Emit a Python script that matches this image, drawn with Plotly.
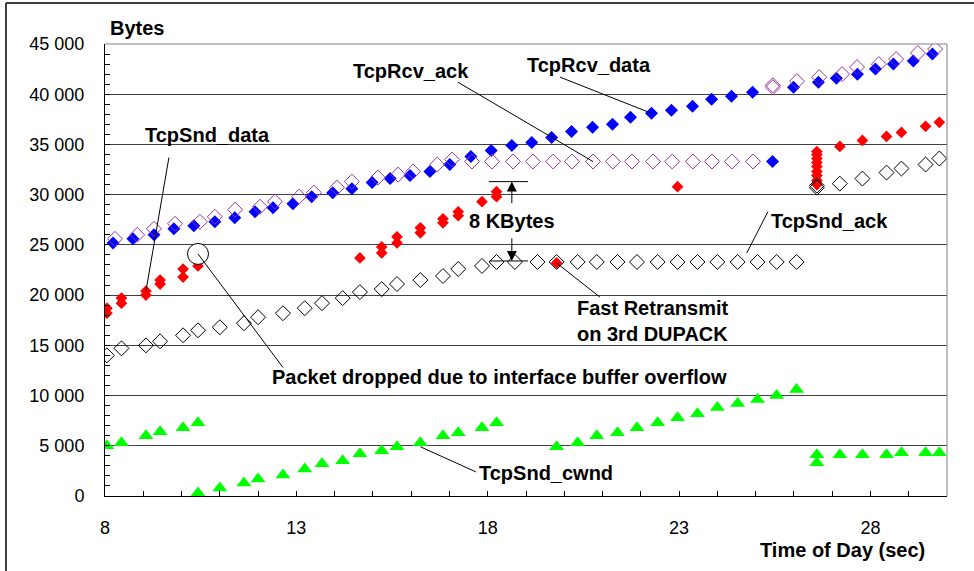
import plotly.graph_objects as go

# ---------------- data (time in sec, bytes) ----------------
# TcpRcv_data : blue filled diamonds
rcv_data_t = [8.21, 8.73, 9.28, 9.80, 10.32, 10.87, 11.39, 11.92, 12.39, 12.91,
              13.40, 13.95, 14.45, 14.98, 15.45, 15.97, 16.49, 17.01, 17.56, 18.09,
              18.63, 19.15, 19.67, 20.19, 20.74, 21.26, 21.73, 22.28, 22.80, 23.35,
              23.85, 24.37, 24.92, 25.44, 25.99, 26.64, 27.11, 27.66, 28.13, 28.60,
              29.12, 29.62]
rcv_data_b = [25200, 25600, 26000, 26600, 26900, 27300, 27700, 28300, 28700, 29100,
              29800, 30200, 30600, 31200, 31600, 31900, 32300, 33000, 33800, 34400,
              34900, 35200, 35700, 36300, 36700, 37000, 37700, 38100, 38400, 38800,
              39500, 39800, 40200, 33300, 40700, 41200, 41600, 42000, 42500, 43000,
              43300, 44000]

# TcpRcv_ack : purple open diamonds
rcv_ack_t = [8.26, 8.84, 9.28, 9.83, 10.48, 10.87, 11.40, 12.05, 12.44, 13.07,
             13.46, 14.06, 14.45, 15.13, 15.66, 16.05, 16.68, 17.07,
             17.59, 18.11, 18.66, 19.18, 19.71, 20.20, 20.75, 21.27, 21.77, 22.32,
             22.82, 23.36, 23.86, 24.38, 24.93,
             25.45, 25.45, 26.08, 26.66, 27.26, 27.65, 28.22, 28.67, 29.24, 29.69]
rcv_ack_b = [25600, 26000, 26600, 27100, 27300, 27800, 28500, 28800, 29300, 29800,
             30200, 30700, 31300, 31700, 32000, 32300, 33000, 33500,
             33300, 33300, 33300, 33300, 33300, 33300, 33300, 33300, 33300, 33300,
             33300, 33300, 33300, 33300, 33300,
             40700, 40900, 41300, 41700, 42000, 42700, 43000, 43500, 44100, 44500]

# TcpSnd_data : red filled diamonds
snd_data_t = [8.05, 8.05, 8.43, 8.43, 9.07, 9.07, 9.44, 9.44, 10.04, 10.04, 10.43,
              14.66, 15.23, 15.23, 15.63, 15.63, 16.24, 16.24, 16.83, 16.83,
              17.23, 17.23, 17.85, 18.23, 18.23, 19.80, 22.96,
              26.60, 26.60, 26.60, 26.60, 26.60, 26.60, 26.60, 26.60, 26.60,
              27.20, 27.79, 28.42, 28.81, 29.44, 29.80]
snd_data_b = [18200, 18700, 19200, 19700, 20000, 20400, 21100, 21500, 21800, 22600, 22900,
              23700, 24200, 24800, 25200, 25800, 26200, 26700, 27200, 27600,
              27900, 28300, 29300, 29800, 30300, 23200, 30800,
              31000, 31400, 31900, 32300, 32800, 33200, 33600, 34000, 34300,
              34800, 35400, 35800, 36200, 36800, 37200]

# TcpSnd_ack : black open diamonds
snd_ack_t = [8.05, 8.43, 9.07, 9.44, 10.04, 10.43, 11.00, 11.63, 12.00, 12.65,
             13.22, 13.67, 14.21, 14.66, 15.23, 15.63, 16.24, 16.83, 17.23, 17.85,
             18.23, 18.71, 19.30, 19.80, 20.35, 20.85, 21.39, 21.90, 22.44, 22.96,
             23.48, 24.00, 24.53, 25.05, 25.55, 26.07,
             26.60, 26.60, 27.20, 27.79, 28.42, 28.81, 29.44, 29.80]
snd_ack_b = [14000, 14700, 15000, 15400, 16000, 16500, 16800, 17200, 17800, 18200,
             18700, 19200, 19700, 20300, 20600, 21100, 21500, 21900, 22600, 22900,
             23300, 23300, 23300, 23300, 23300, 23300, 23300, 23300, 23300, 23300,
             23300, 23300, 23300, 23300, 23300, 23300,
             30700, 30900, 31100, 31600, 32200, 32600, 33000, 33600]

# TcpSnd_cwnd : green triangles
cwnd_t = [8.05, 8.43, 9.07, 9.44, 10.04, 10.43, 10.43, 11.00, 11.63, 12.00, 12.65,
          13.22, 13.67, 14.21, 14.66, 15.23, 15.63, 16.24, 16.83, 17.23, 17.85, 18.23,
          19.80, 20.35, 20.85, 21.39, 21.90, 22.44, 22.96, 23.48, 24.00, 24.53, 25.05,
          25.55, 26.07, 26.60, 26.60, 27.20, 27.79, 28.42, 28.81, 29.44, 29.80]
cwnd_b = [5000, 5300, 6000, 6400, 6800, 7300, 300, 800, 1300, 1700, 2100,
          2700, 3200, 3500, 4200, 4500, 4900, 5300, 6000, 6300, 6800, 7300,
          4900, 5300, 6000, 6300, 6800, 7300, 7800, 8200, 8800, 9200, 9600,
          10000, 10600, 4100, 3300, 4100, 4100, 4100, 4300, 4300, 4300]

# dropped packet marker
drop_t = [10.43]
drop_b = [24100]

x_tick_vals = [8, 13, 18, 23, 28]
x_tick_text = ["8", "13", "18", "23", "28"]
y_tick_vals = [0, 5000, 10000, 15000, 20000, 25000, 30000, 35000, 40000, 45000]
y_tick_text = ["0", "5 000", "10 000", "15 000", "20 000", "25 000",
               "30 000", "35 000", "40 000", "45 000"]

FONT = "Arial, Liberation Sans, sans-serif"

fig = go.Figure()
fig.add_trace(go.Scatter(x=cwnd_t, y=cwnd_b, mode="markers", name="TcpSnd_cwnd",
                         marker=dict(symbol="triangle-up", size=13, color="#00FF00",
                                     line=dict(width=0))))
fig.add_trace(go.Scatter(x=rcv_data_t, y=rcv_data_b, mode="markers", name="TcpRcv_data",
                         marker=dict(symbol="diamond", size=10, color="#0000FF",
                                     line=dict(width=0))))
fig.add_trace(go.Scatter(x=rcv_ack_t, y=rcv_ack_b, mode="markers", name="TcpRcv_ack",
                         marker=dict(symbol="diamond-open", size=11.5, color="#993399",
                                     line=dict(width=1, color="#993399"))))
fig.add_trace(go.Scatter(x=snd_data_t, y=snd_data_b, mode="markers", name="TcpSnd_data",
                         marker=dict(symbol="diamond", size=9, color="#FF0000",
                                     line=dict(width=0))))
fig.add_trace(go.Scatter(x=snd_ack_t, y=snd_ack_b, mode="markers", name="TcpSnd_ack",
                         marker=dict(symbol="diamond-open", size=11.5, color="black",
                                     line=dict(width=1, color="black"))))
fig.add_trace(go.Scatter(x=drop_t, y=drop_b, mode="markers", name="drop",
                         marker=dict(symbol="circle", size=21, color="white",
                                     line=dict(width=1, color="black"))))

shapes = []
def seg(x0, y0, x1, y1, color="black", width=1, xref="x", yref="y"):
    shapes.append(dict(type="line", x0=x0, y0=y0, x1=x1, y1=y1, xref=xref, yref=yref,
                       line=dict(color=color, width=width), layer="above"))

# leader lines
i = rcv_ack_t.index(20.75)
seg(17.22, 41200, rcv_ack_t[i], rcv_ack_b[i])
i = rcv_data_t.index(22.28)
seg(19.89, 41700, rcv_data_t[i], rcv_data_b[i])
seg(9.67, 33700, snd_data_t[5], snd_data_b[5])
seg(25.32, 28300, 24.77, 24200)
i = snd_data_t.index(19.80)
seg(snd_data_t[i], snd_data_b[i], 20.93, 19800)
seg(drop_t[0], drop_b[0], 12.65, 12800)
i = cwnd_t.index(16.24)
seg(cwnd_t[i], cwnd_b[i] - 400, 17.69, 2400)
# 8 KBytes bracket
seg(18.03, 31300, 19.05, 31300)
seg(18.05, 23400, 19.05, 23400)
# plot frame (top/right gray) and outer border
seg(1, 0, 1, 1, color="#808080", xref="paper", yref="paper")
seg(0, 1, 1, 1, color="#808080", xref="paper", yref="paper")
seg(-0.1176, 1.0907, 1.04, 1.0907, color="#404040", width=2, xref="paper", yref="paper")
seg(-0.1176, 1.0907, -0.1176, -0.17, color="#404040", width=2, xref="paper", yref="paper")

ann = []
def txt(x, y, s, xanchor="center", align="center", xref="x", yref="y", yanchor="middle"):
    ann.append(dict(x=x, y=y, text=s, showarrow=False, xref=xref, yref=yref,
                    xanchor=xanchor, yanchor=yanchor, align=align,
                    font=dict(family=FONT, size=20, color="black", weight="bold")))

txt(16.0, 42300, "TcpRcv_ack")
txt(20.65, 42900, "TcpRcv_data")
txt(10.69, 35900, "TcpSnd_data")
txt(26.94, 27400, "TcpSnd_ack")
txt(18.63, 27400, "8 KBytes")
txt(20.28, 17400, "Fast Retransmit<br>on 3rd DUPACK", xanchor="left", align="left")
txt(18.30, 11850, "Packet dropped due to interface buffer overflow")
txt(17.72, 2300, "TcpSnd_cwnd", xanchor="left")
txt(0.004, 1.035, "Bytes", xanchor="left", xref="paper", yref="paper")
txt(0.976, -0.12, "Time of Day (sec)", xanchor="right", xref="paper", yref="paper")

# bracket arrows
for (y_from, y_to) in [(29000, 31300), (25800, 23400)]:
    ann.append(dict(x=18.63, y=y_to, ax=18.63, ay=y_from, xref="x", yref="y",
                    axref="x", ayref="y", text="", showarrow=True, arrowhead=2,
                    arrowsize=2, arrowwidth=1, arrowcolor="black"))

fig.update_layout(
    width=974, height=571,
    margin=dict(l=105, r=27, t=44, b=75, pad=0),
    paper_bgcolor="white", plot_bgcolor="white",
    showlegend=False,
    font=dict(family=FONT, size=18, color="black"),
    shapes=shapes, annotations=ann,
    xaxis=dict(range=[8, 30], showgrid=False, zeroline=False,
               showline=True, linecolor="black", linewidth=1,
               tickmode="array", tickvals=x_tick_vals, ticktext=x_tick_text,
               ticks="inside", ticklen=5, tickcolor="black",
               ticklabelstandoff=15,
               minor=dict(tickmode="linear", tick0=8, dtick=1, ticks="inside",
                          ticklen=5, tickcolor="black", showgrid=False),
               tickfont=dict(family=FONT, size=18, color="black")),
    yaxis=dict(range=[0, 45000], showgrid=True, gridcolor="#404040", gridwidth=1,
               zeroline=False, showline=True, linecolor="black", linewidth=1,
               tickmode="array", tickvals=y_tick_vals, ticktext=y_tick_text,
               ticks="inside", ticklen=5, tickcolor="black",
               ticklabelstandoff=16,
               minor=dict(tickmode="linear", tick0=0, dtick=1000, ticks="inside",
                          ticklen=5, tickcolor="black", showgrid=False),
               tickfont=dict(family=FONT, size=18, color="black")),
)

fig.write_html("out.html")
